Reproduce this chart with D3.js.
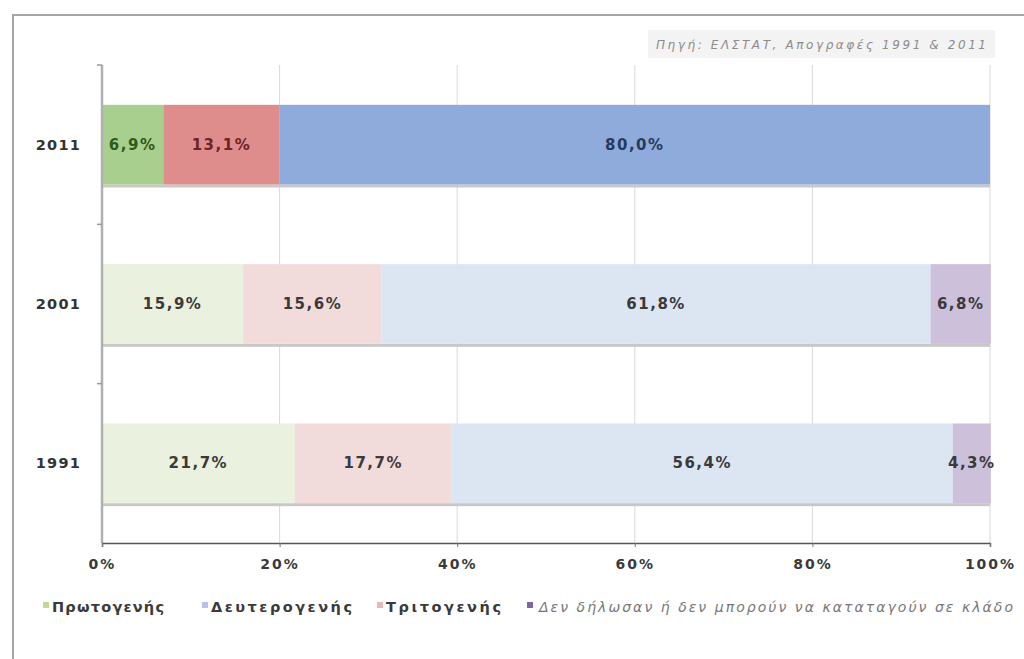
<!DOCTYPE html>
<html>
<head>
<meta charset="utf-8">
<script src="https://cdn.jsdelivr.net/npm/d3@7"></script>
<style>
  html, body { margin: 0; padding: 0; background: #fff; }
  svg { display: block; }
  text { font-family: "DejaVu Sans", Verdana, sans-serif; }
</style>
</head>
<body>
<svg id="chart" width="1024" height="659"></svg>
<script>
// Census years, top to bottom
const years = ["2011", "2001", "1991"];

// Segment values (%) per year, in the order they are stacked left to right
const primary   = [6.9, 15.9, 21.7];   // green
const tertiary  = [13.1, 15.6, 17.7];  // pink
const secondary = [80.0, 61.8, 56.4];  // blue
const undeclared = [0, 6.8, 4.3];      // purple

const xTicks = [0, 20, 40, 60, 80, 100];
const legendLabels = ["Πρωτογενής", "Δευτερογενής", "Τριτογενής",
  "Δεν δήλωσαν ή δεν μπορούν να καταταγούν σε κλάδο"];
const sourceText = "Πηγή: ΕΛΣΤΑΤ, Απογραφές 1991 & 2011";

const series = [
  { key: "primary", values: primary },
  { key: "tertiary", values: tertiary },
  { key: "secondary", values: secondary },
  { key: "undeclared", values: undeclared }
];

// 2011 is drawn in strong colours, earlier censuses in pale tints
const fillStrong = { primary: "#a9cf8e", tertiary: "#df8d8c", secondary: "#8eabdc", undeclared: "#a391c0" };
const fillPale   = { primary: "#eaf1de", tertiary: "#f2dcdb", secondary: "#dce6f2", undeclared: "#ccc0da" };
const labelStrong = { primary: "#2f5a1c", tertiary: "#6a2626", secondary: "#283a5c", undeclared: "#333" };

const svg = d3.select("#chart");
const margin = { left: 102, right: 34, top: 65, bottom: 116 };
const W = 1024, H = 659;

const x = d3.scaleLinear().domain([0, 100]).range([margin.left, W - margin.right]);
const y = d3.scaleBand().domain(years).range([margin.top, H - margin.bottom]).paddingInner(0.5).paddingOuter(0.25);

// outer frame (left and top edges)
svg.append("path")
  .attr("d", `M13,659 L13,15 L1024,15`)
  .attr("fill", "none").attr("stroke", "#a6a6a6").attr("stroke-width", 2);

// source note
svg.append("rect").attr("x", 648).attr("y", 30).attr("width", 347).attr("height", 28)
  .attr("fill", "#f3f3f3");
svg.append("text").attr("x", 821).attr("y", 48.5).attr("text-anchor", "middle")
  .attr("font-size", 12).attr("font-style", "italic").attr("fill", "#8c8c8c")
  .attr("textLength", 330).attr("lengthAdjust", "spacing")
  .text(sourceText);

// vertical gridlines
svg.append("g").selectAll("line").data(xTicks.filter(d => d > 0)).join("line")
  .attr("x1", d => x(d)).attr("x2", d => x(d))
  .attr("y1", margin.top).attr("y2", H - margin.bottom)
  .attr("stroke", "#d9d9d9").attr("stroke-width", 1);

// stacked bars
const stacks = years.map((yr, i) => {
  let acc = 0;
  return series.map(s => {
    const v = s.values[i];
    const seg = { year: yr, key: s.key, v, x0: acc, x1: acc + v, strong: i === 0 };
    acc += v;
    return seg;
  }).filter(d => d.v > 0);
});

const bars = svg.append("g");
// soft shadow under each bar
bars.selectAll("rect.shadow").data(years).join("rect")
  .attr("class", "shadow")
  .attr("x", x(0)).attr("width", x(100) - x(0))
  .attr("y", d => y(d) + y.bandwidth()).attr("height", 3)
  .attr("fill", "#c8c8c8");

bars.selectAll("g.row").data(stacks).join("g").attr("class", "row")
  .selectAll("rect").data(d => d).join("rect")
  .attr("x", d => x(d.x0)).attr("width", d => x(d.x1) - x(d.x0))
  .attr("y", d => y(d.year)).attr("height", y.bandwidth())
  .attr("fill", d => (d.strong ? fillStrong : fillPale)[d.key]);

// value labels, centred in each segment
const fmt = v => v.toFixed(1).replace(".", ",") + "%";
svg.append("g").selectAll("g.row").data(stacks).join("g")
  .selectAll("text").data(d => d).join("text")
  .attr("x", d => x((d.x0 + d.x1) / 2)).attr("y", d => y(d.year) + y.bandwidth() / 2 + 5)
  .attr("text-anchor", "middle").attr("font-size", 15).attr("font-weight", "bold")
  .attr("letter-spacing", 1.5)
  .attr("fill", d => d.strong ? labelStrong[d.key] : "#3a3a3a")
  .text(d => fmt(d.v));

// y axis
svg.append("line").attr("x1", x(0)).attr("x2", x(0))
  .attr("y1", margin.top).attr("y2", H - margin.bottom)
  .attr("stroke", "#b0b0b0").attr("stroke-width", 2.5);
const yTickPos = [margin.top, (y("2011") + y.bandwidth() + y("2001")) / 2,
  (y("2001") + y.bandwidth() + y("1991")) / 2];
svg.append("g").selectAll("line").data(yTickPos).join("line")
  .attr("x1", x(0) - 5).attr("x2", x(0)).attr("y1", d => d).attr("y2", d => d)
  .attr("stroke", "#9a9a9a").attr("stroke-width", 1.5);
svg.append("g").selectAll("text").data(years).join("text")
  .attr("x", 81).attr("y", d => y(d) + y.bandwidth() / 2 + 5)
  .attr("text-anchor", "end").attr("font-size", 14.5).attr("font-weight", "bold")
  .attr("letter-spacing", 1.2).attr("fill", "#333")
  .text(d => d);

// x axis
const xAxis = d3.axisBottom(x).tickValues(xTicks).tickSize(4).tickFormat(d => d + "%");
const gx = svg.append("g").attr("transform", `translate(0,${H - margin.bottom})`).call(xAxis);
gx.select(".domain").attr("stroke", "#555").attr("stroke-width", 1.5);
gx.selectAll(".tick line").attr("stroke", "#777");
gx.selectAll(".tick text")
  .attr("y", 16).attr("font-size", 14).attr("font-weight", "bold")
  .attr("letter-spacing", 2).attr("fill", "#3a3a3a")
  .attr("font-family", "DejaVu Sans, Verdana, sans-serif");

// legend
const legendMarker = ["#c3d69b", "#b7c3e2", "#e6b9b8", "#8064a2"];
const legendX = [43, 202, 377, 527];
const legendW = [112, 141, 115, 474];
const lg = svg.append("g").selectAll("g").data(legendLabels).join("g")
  .attr("transform", (d, i) => `translate(${legendX[i]},607)`);
lg.append("rect").attr("x", 0).attr("y", -5).attr("width", 6).attr("height", 6)
  .attr("fill", (d, i) => legendMarker[i]);
lg.append("text").attr("x", (d, i) => i === 3 ? 12 : 9).attr("y", 5)
  .attr("font-size", (d, i) => i === 3 ? 14 : 14.5)
  .attr("font-weight", (d, i) => i === 3 ? "normal" : "bold")
  .attr("font-style", (d, i) => i === 3 ? "italic" : "normal")
  .attr("fill", (d, i) => i === 3 ? "#777" : "#3a3a3a")
  .attr("textLength", (d, i) => legendW[i]).attr("lengthAdjust", "spacing")
  .text(d => d);
</script>
</body>
</html>
